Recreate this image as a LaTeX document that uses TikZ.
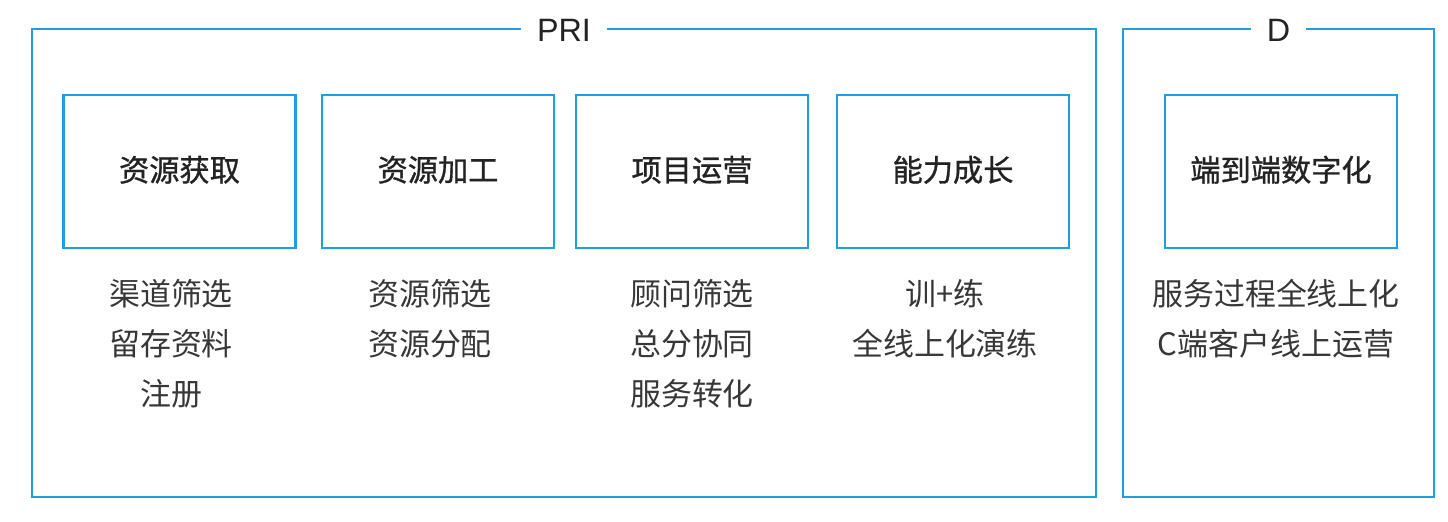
\documentclass[tikz,border=0pt]{standalone}
\usepackage{fontspec}
\setmainfont{Liberation Sans}
\newfontfamily\cjk{Noto Sans CJK SC}
\newfontfamily\cjkmid[FakeBold=1]{Noto Sans CJK SC}
\definecolor{frameblue}{RGB}{30,160,222}
\definecolor{txtgray}{RGB}{35,35,35}
\definecolor{itemgray}{RGB}{55,55,55}

\begin{document}
\begin{tikzpicture}[
    frame/.style={draw=frameblue, line width=0.8pt, minimum height=4.68cm},
    stage/.style={draw=frameblue, line width=0.8pt, minimum width=2.32cm, minimum height=1.53cm, text depth=0.06cm, font=\cjkmid\fontsize{8.6}{10}\selectfont, text=txtgray},
    frametitle/.style={fill=white, inner xsep=0.16cm, yshift=-0.03cm, font=\fontsize{9.2}{11}\selectfont, text=txtgray},
    items/.style={align=center, anchor=north, font=\cjk\fontsize{8.8}{14.2}\selectfont, text=itemgray}
  ]
    \useasboundingbox (0,0) rectangle (14.48,-5.21);

    % outer frames with titles on the top edge
    \node[frame, minimum width=10.64cm] (pri) at (5.64,-2.63) {};
    \node[frame, minimum width=3.11cm] (d) at (12.785,-2.63) {};
    \node[frametitle] (pri-title) at (pri.north) {PRI};
    \node[frametitle] (d-title) at (d.north) {D};

    % stages
    \node[stage] (acquire) at (1.795,-1.715) {资源获取};
    \node[stage] (process) at (4.38,-1.715) {资源加工};
    \node[stage] (operate) at (6.92,-1.715) {项目运营};
    \node[stage] (growth) at (9.53,-1.715) {能力成长};
    \node[stage] (digital) at (12.81,-1.715) {端到端数字化};

    % items under each stage
    \node[items] (acquire-items) at (1.71,-2.67) {渠道筛选\\留存资料\\注册};
    \node[items] (process-items) at (4.30,-2.67) {资源筛选\\资源分配};
    \node[items] (operate-items) at (6.92,-2.67) {顾问筛选\\总分协同\\服务转化};
    \node[items] (growth-items) at (9.45,-2.67) {训+练\\全线上化演练};
    \node[items] (digital-items) at (12.76,-2.67) {服务过程全线上化\\C端客户线上运营};
  \end{tikzpicture}
\end{document}
